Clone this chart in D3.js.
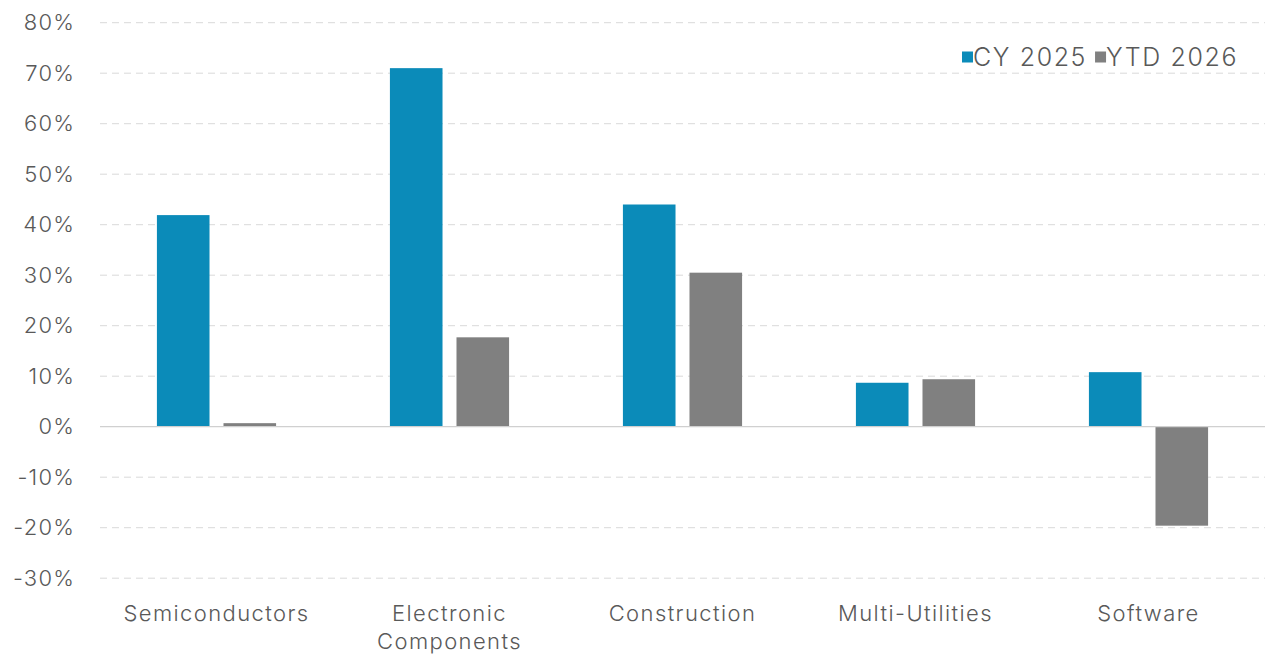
<!DOCTYPE html>
<html>
<head>
<meta charset="utf-8">
<script src="https://cdn.jsdelivr.net/npm/d3@7"></script>
<style>
  html, body { margin: 0; padding: 0; background: #fff; }
  svg { display: block; }
  text { font-family: Inter, "Open Sans", sans-serif; font-weight: 300; fill: #595959; }
</style>
</head>
<body>
<svg id="chart" width="1265" height="660"></svg>
<script>
// Industry returns by sector
const categories = ["Semiconductors", "Electronic Components", "Construction", "Multi-Utilities", "Software"];
const seriesNames = ["CY 2025", "YTD 2026"];
const cy2025 = [41.9, 71.0, 44.0, 8.7, 10.8];
const ytd2026 = [0.7, 17.7, 30.5, 9.4, -19.6];
const yTicks = [-30, -20, -10, 0, 10, 20, 30, 40, 50, 60, 70, 80];
const colors = ["#0b8bb9", "#808080"];

const svg = d3.select("#chart");
const width = 1265, height = 660;
const margin = { top: 22.7, right: 0, bottom: 660 - 578.2, left: 100 };

const x0 = d3.scaleBand()
  .domain(categories)
  .range([margin.left, width - margin.right])
  .padding(0);

const x1 = d3.scaleBand()
  .domain(seriesNames)
  .range([0, x0.bandwidth()])
  .paddingInner(0.21)
  .paddingOuter(0.855);

const y = d3.scaleLinear()
  .domain([-30, 80])
  .range([height - margin.bottom, margin.top]);

// Gridlines
const grid = svg.append("g");
grid.selectAll("line")
  .data(yTicks.filter(d => d !== 0))
  .join("line")
  .attr("x1", margin.left)
  .attr("x2", width - margin.right)
  .attr("y1", d => y(d))
  .attr("y2", d => y(d))
  .attr("stroke", "#d9d9d9")
  .attr("stroke-width", 1)
  .attr("stroke-dasharray", "7,5");

// Y axis labels
const yAxis = d3.axisLeft(y)
  .tickValues(yTicks)
  .tickFormat(d => d + "%")
  .tickSize(0)
  .tickPadding(0);
const yG = svg.append("g")
  .attr("transform", `translate(75,0)`)
  .call(yAxis);
yG.select(".domain").remove();
yG.selectAll("text")
  .attr("font-size", 22)
  .attr("letter-spacing", "1.2px")
  .attr("font-family", null)
  .attr("fill", "#595959");

// Bars
const data = categories.map((c, i) => ({ cat: c, values: [cy2025[i], ytd2026[i]] }));
const groups = svg.append("g")
  .selectAll("g")
  .data(data)
  .join("g")
  .attr("transform", d => `translate(${x0(d.cat)},0)`);

groups.selectAll("rect")
  .data(d => d.values.map((v, j) => ({ key: seriesNames[j], value: v, j })))
  .join("rect")
  .attr("x", d => x1(d.key))
  .attr("width", x1.bandwidth())
  .attr("y", d => y(Math.max(0, d.value)))
  .attr("height", d => Math.abs(y(d.value) - y(0)))
  .attr("fill", d => colors[d.j]);

// Zero line
svg.append("line")
  .attr("x1", margin.left)
  .attr("x2", width - margin.right)
  .attr("y1", y(0))
  .attr("y2", y(0))
  .attr("stroke", "#d0d0d0")
  .attr("stroke-width", 1.2);

// Category labels, wrapped to two lines where needed
const xAxis = svg.append("g");
const catLines = {
  "Electronic Components": ["Electronic", "Components"]
};
categories.forEach(c => {
  const lines = catLines[c] || [c];
  const t = xAxis.append("text")
    .attr("x", x0(c) + x0.bandwidth() / 2)
    .attr("y", 621)
    .attr("text-anchor", "middle")
    .attr("font-size", 22)
    .attr("letter-spacing", "1.4px");
  lines.forEach((l, i) => {
    t.append("tspan")
      .attr("x", x0(c) + x0.bandwidth() / 2)
      .attr("dy", i === 0 ? 0 : 28)
      .text(l);
  });
});

// Legend
const legend = svg.append("g").attr("transform", "translate(962,0)");
let lx = 0;
seriesNames.forEach((s, i) => {
  legend.append("rect")
    .attr("x", lx)
    .attr("y", 51.5)
    .attr("width", 11)
    .attr("height", 11)
    .attr("fill", colors[i]);
  const t = legend.append("text")
    .attr("x", lx + 11)
    .attr("y", 65.5)
    .attr("font-size", 25)
    .attr("letter-spacing", "1.6px")
    .text(s);
  lx += 11 + t.node().getComputedTextLength() + 8;
});
</script>
</body>
</html>
